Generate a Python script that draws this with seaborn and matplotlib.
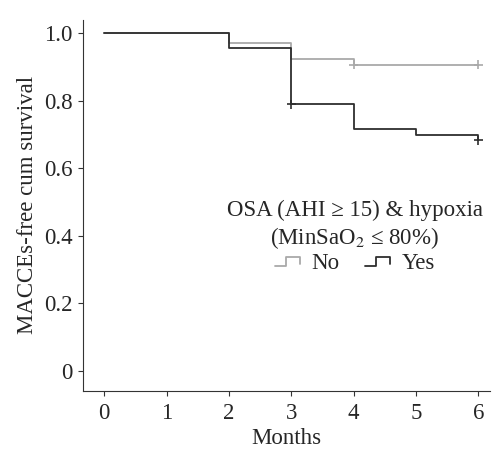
import numpy as np
import pandas as pd
import matplotlib
matplotlib.use("Agg")
import matplotlib.pyplot as plt
import seaborn as sns
from matplotlib.lines import Line2D
from matplotlib.legend_handler import HandlerBase

# Kaplan-Meier steps
no_months = [0, 2, 3, 4, 6]
no_surv = [1.0, 0.972, 0.923, 0.907, 0.907]
yes_months = [0, 2, 3, 4, 5, 6]
yes_surv = [1.0, 0.955, 0.790, 0.715, 0.700, 0.683]

# censored points
no_cens_months = [4, 6]
no_cens_surv = [0.907, 0.907]
yes_cens_months = [3, 6]
yes_cens_surv = [0.790, 0.683]

groups = ["No", "Yes"]
colors = {"No": "#a9a9a9", "Yes": "#2e2e2e"}

df = pd.DataFrame({
    "Months": no_months + yes_months,
    "surv": no_surv + yes_surv,
    "group": ["No"] * len(no_months) + ["Yes"] * len(yes_months),
})
cens = pd.DataFrame({
    "Months": no_cens_months + yes_cens_months,
    "surv": no_cens_surv + yes_cens_surv,
    "group": ["No"] * len(no_cens_months) + ["Yes"] * len(yes_cens_months),
})

sns.set_style("ticks")
plt.rcParams["font.family"] = ["Liberation Serif", "DejaVu Serif"]
plt.rcParams["mathtext.fontset"] = "stix"
FS = 16.5


class StepHandler(HandlerBase):
    def create_artists(self, legend, orig_handle, xdescent, ydescent,
                       width, height, fontsize, trans):
        xs = np.array([0, 0.4, 0.4, 0.9, 0.9]) * width - xdescent
        ys = np.array([0.15, 0.15, 0.7, 0.7, 0.3]) * height - ydescent
        ln = Line2D(xs, ys, color=orig_handle.get_color(), lw=1.3, transform=trans)
        return [ln]


fig = plt.figure(figsize=(4.94, 4.5), dpi=100)
ax = fig.add_axes([0.168, 0.131, 0.824, 0.825])

sns.lineplot(data=df, x="Months", y="surv", hue="group", palette=colors,
             drawstyle="steps-post", linewidth=1.3, ax=ax, legend=False,
             estimator=None, sort=False)
sns.scatterplot(data=cens, x="Months", y="surv", hue="group", palette=colors,
                marker="+", s=45, linewidth=1.2, ax=ax, legend=False, zorder=5)

ax.set_xlim(-0.34, 6.19)
ax.set_ylim(-0.06, 1.04)
ax.set_xticks(range(7))
ax.set_yticks([0, 0.2, 0.4, 0.6, 0.8, 1.0])
ax.set_yticklabels(["0", "0.2", "0.4", "0.6", "0.8", "1.0"])
ax.tick_params(labelsize=FS, length=3.5, color="#333333")
ax.tick_params(axis="x", pad=5)
ax.tick_params(axis="y", pad=4)
ax.set_xlabel("Months", fontsize=FS, labelpad=3)
ax.set_ylabel("MACCEs-free cum survival", fontsize=FS, labelpad=4)
sns.despine(ax=ax)
for s in ["left", "bottom"]:
    ax.spines[s].set_color("#333333")

handles = [Line2D([], [], color=colors[g]) for g in groups]
leg = ax.legend(handles, groups, ncol=2, frameon=False, fontsize=FS,
                title="OSA (AHI ≥ 15) & hypoxia\n(MinSaO$_2$ ≤ 80%)",
                title_fontsize=FS, handler_map={Line2D: StepHandler()},
                handlelength=1.2, handletextpad=0.4, columnspacing=1.1,
                alignment="center", loc="center",
                bbox_to_anchor=(0.668, 0.415))
leg._legend_box.sep = 1
leg.get_title().set_multialignment("center")

fig.savefig("out.png", dpi=100)
